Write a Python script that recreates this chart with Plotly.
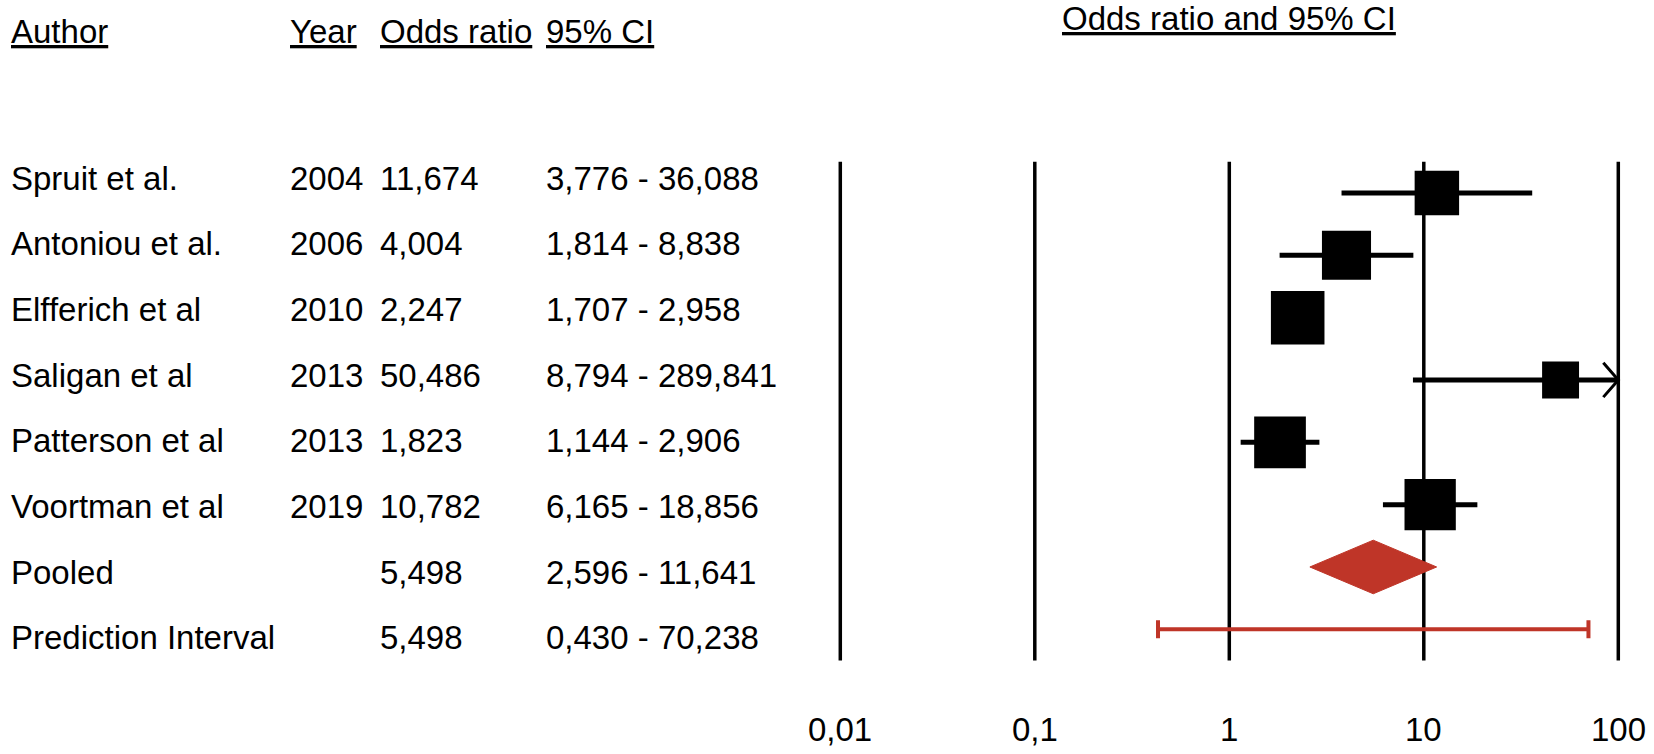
import math
import plotly.graph_objects as go

# ---------------- data ----------------
authors = ["Spruit et al.", "Antoniou et al.", "Elfferich et al", "Saligan et al",
           "Patterson et al", "Voortman et al"]
years = [2004, 2006, 2010, 2013, 2013, 2019]
odds_ratio = [11.674, 4.004, 2.247, 50.486, 1.823, 10.782]
ci_low = [3.776, 1.814, 1.707, 8.794, 1.144, 6.165]
ci_high = [36.088, 8.838, 2.958, 289.841, 2.906, 18.856]
study_weight = [14.2, 17.3, 20.6, 9.8, 19.2, 18.9]   # relative weight (%), drives square area

summary_labels = ["Pooled", "Prediction Interval"]
pooled_or, pooled_low, pooled_high = 5.498, 2.596, 11.641
pred_or, pred_low, pred_high = 5.498, 0.430, 70.238

tick_vals = [0.01, 0.1, 1, 10, 100]
tick_labels = ["0,01", "0,1", "1", "10", "100"]
header_labels = ["Author", "Year", "Odds ratio", "95% CI"]
plot_title = "Odds ratio and 95% CI"

# ---------------- styles ----------------
FONT = "Arial, 'Liberation Sans', sans-serif"
FS = 33
RED = "#BF3528"
W, H = 1654, 754
axis_max = tick_vals[-1]


def fmt(v):
    return f"{v:.3f}".replace(".", ",")


n = len(authors)
rows = list(range(n))
row_pooled = n
row_pred = n + 1

fig = go.Figure()

# vertical reference lines at the tick values
vx, vy = [], []
for t in tick_vals:
    vx += [t, t, None]
    vy += [-0.5, row_pred + 0.5, None]
fig.add_trace(go.Scatter(x=vx, y=vy, mode="lines",
                         line=dict(color="black", width=3.5), hoverinfo="skip"))

# study estimates with CI whiskers (clipped at the axis maximum)
upper_clip = [min(h, axis_max) for h in ci_high]
fig.add_trace(go.Scatter(
    x=odds_ratio, y=rows, mode="markers",
    marker=dict(symbol="square", color="black", opacity=1,
                size=[11.8 * math.sqrt(w) for w in study_weight],
                line=dict(width=0)),
    error_x=dict(type="data", symmetric=False,
                 array=[u - o for u, o in zip(upper_clip, odds_ratio)],
                 arrayminus=[o - l for o, l in zip(odds_ratio, ci_low)],
                 width=0, thickness=5, color="black"),
    hoverinfo="skip"))

# open arrow head for CIs exceeding the axis
ax_, ay_ = [], []
back = 10 ** (-15 / 194.5)
for r, h in zip(rows, ci_high):
    if h > axis_max:
        ax_ += [axis_max * back, axis_max, axis_max * back, None]
        ay_ += [r - 0.275, r, r + 0.275, None]
fig.add_trace(go.Scatter(x=ax_, y=ay_, mode="lines",
                         line=dict(color="black", width=3), hoverinfo="skip"))

# pooled diamond
dh = 0.43
fig.add_trace(go.Scatter(
    x=[pooled_low, pooled_or, pooled_high, pooled_or, pooled_low],
    y=[row_pooled, row_pooled - dh, row_pooled, row_pooled + dh, row_pooled],
    mode="lines", fill="toself", fillcolor=RED,
    line=dict(color=RED, width=1), hoverinfo="skip"))

# prediction interval
fig.add_trace(go.Scatter(
    x=[pred_or], y=[row_pred], mode="markers",
    marker=dict(size=1, color="rgba(0,0,0,0)"),
    error_x=dict(type="data", symmetric=False,
                 array=[pred_high - pred_or], arrayminus=[pred_or - pred_low],
                 width=9, thickness=4, color=RED),
    hoverinfo="skip"))

# invisible trace on the table axis
fig.add_trace(go.Scatter(x=[1], y=[0], yaxis="y2", mode="markers",
                         marker=dict(size=1, color="rgba(0,0,0,0)"), hoverinfo="skip"))

# ---------------- table text ----------------
col_x = [9 / W, 288 / W, 378 / W, 544 / W]
ann = []


def txt(x, y, s, yref="y2", xref="paper", xanchor="left"):
    ann.append(dict(x=x, y=y, xref=xref, yref=yref, text=s, showarrow=False,
                    xanchor=xanchor, yanchor="middle",
                    font=dict(family=FONT, size=FS, color="black")))


header_row = -2.23
for cx, lab in zip(col_x, header_labels):
    txt(cx, header_row, f"<u>{lab}</u>")

for r, a, yr, o, l, h in zip(rows, authors, years, odds_ratio, ci_low, ci_high):
    txt(col_x[0], r, a)
    txt(col_x[1], r, str(yr))
    txt(col_x[2], r, fmt(o))
    txt(col_x[3], r, f"{fmt(l)} - {fmt(h)}")

txt(col_x[0], row_pooled, summary_labels[0])
txt(col_x[2], row_pooled, fmt(pooled_or))
txt(col_x[3], row_pooled, f"{fmt(pooled_low)} - {fmt(pooled_high)}")
txt(col_x[0], row_pred, summary_labels[1])
txt(col_x[2], row_pred, fmt(pred_or))
txt(col_x[3], row_pred, f"{fmt(pred_low)} - {fmt(pred_high)}")

# title over the plot column
txt(math.log10(1), -2.42, f"<u>{plot_title}</u>", yref="y2", xref="x", xanchor="center")

# tick labels
for t, lab in zip(tick_vals, tick_labels):
    txt(math.log10(t), 8.615, lab, yref="y", xref="x", xanchor="center")

fig.update_layout(
    width=W, height=H,
    margin=dict(l=0, r=0, t=0, b=0),
    paper_bgcolor="white", plot_bgcolor="white",
    showlegend=False, hovermode=False,
    xaxis=dict(type="log", range=[-1229.3 / 194.5, (W - 1229.3) / 194.5],
               visible=False, fixedrange=True),
    yaxis=dict(range=[(H - 193) / 62.33, -193 / 62.33], visible=False, fixedrange=True),
    yaxis2=dict(range=[(H - 178) / 65.71, -178 / 65.71], overlaying="y",
                visible=False, fixedrange=True),
    annotations=ann,
)

fig.write_html("out.html", config={"displayModeBar": False},
               post_script="document.body.style.margin='0';")
